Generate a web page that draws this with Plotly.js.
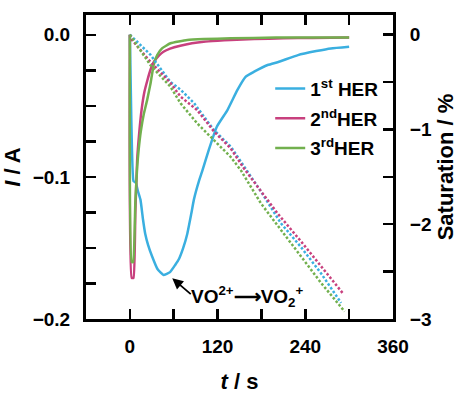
<!DOCTYPE html>
<html>
<head>
<meta charset="utf-8">
<script src="https://cdn.plot.ly/plotly-3.0.1.min.js"></script>
<style>html,body{margin:0;padding:0;background:#fff;}#chart{width:458px;height:398px;}</style>
</head>
<body>
<div id="chart"></div>
<script>
// ---- Current I (A) vs time t (s) ----
const t1 = [0, 2, 5, 8, 11, 14.5, 18, 21, 25, 30.5, 38, 46, 55, 62, 67, 73, 78.6, 84, 87.6, 94.5, 99, 108, 119, 133.5, 147, 158.6, 170, 188.5, 204, 230, 255, 275, 300];
const I1 = [0, -0.06, -0.103, -0.104, -0.11, -0.116, -0.13, -0.14, -0.148, -0.156, -0.165, -0.169, -0.167, -0.162, -0.158, -0.15, -0.14, -0.126, -0.116, -0.103, -0.096, -0.081, -0.0647, -0.053, -0.039, -0.0295, -0.026, -0.0213, -0.019, -0.0143, -0.0115, -0.0096, -0.0084];

const t2 = [0, 2.5, 5, 7.5, 10, 13, 16, 20, 24, 28, 33, 40, 46, 55, 69, 85, 101, 120, 138, 170, 210, 250, 300];
const I2 = [0, -0.171, -0.171, -0.125, -0.088, -0.068, -0.053, -0.04, -0.032, -0.025, -0.019, -0.0145, -0.012, -0.0098, -0.0077, -0.006, -0.0049, -0.0042, -0.0037, -0.003, -0.0025, -0.0022, -0.002];

const t3 = [0, 2.5, 4.5, 7.5, 10, 12, 15, 19, 23.6, 28, 32.7, 37.4, 44, 55.6, 78.6, 101, 138, 200, 300];
const I3 = [0, -0.16, -0.16, -0.118, -0.093, -0.081, -0.068, -0.056, -0.046, -0.035, -0.021, -0.0143, -0.0096, -0.006, -0.0037, -0.003, -0.0025, -0.002, -0.002];

// ---- Saturation (%) vs time t (s) ----
const ts1 = [0, 28, 55.6, 69.4, 87.6, 115, 138, 156, 179.5, 206.7, 234, 261.7, 289];
const S1  = [0, -0.21, -0.50, -0.58, -0.72, -1.006, -1.18, -1.39, -1.657, -1.99, -2.24, -2.52, -2.83];

const ts2 = [0, 3, 28, 55.6, 69.4, 92, 115, 138, 156, 202, 234, 261.7, 291.5];
const S2  = [0, -0.056, -0.285, -0.51, -0.654, -0.795, -1.02, -1.2, -1.41, -1.885, -2.18, -2.45, -2.73];

const ts3 = [0, 28, 55.6, 69.4, 92, 115, 138, 151.8, 179.3, 206.7, 234, 261.7, 293.7];
const S3  = [0, -0.32, -0.55, -0.724, -0.935, -1.11, -1.29, -1.43, -1.78, -2.06, -2.34, -2.62, -2.92];

// ---- Labels ----
const seriesNames = ['1<sup>st</sup> HER', '2<sup>nd</sup>HER', '3<sup>rd</sup>HER'];
const annText = 'VO<sup>2+</sup>\u27F6VO<sub>2</sub><sup>+</sup>';
const xTitle = '<i>t</i> / s';
const yTitle = '<i>I</i> / A';
const y2Title = 'Saturation / %';

const colors = ['#3AAFE0', '#C8407E', '#72B04E'];
const FONT = "'Liberation Sans', Arial, sans-serif";

const tsets = [[t1, I1], [t2, I2], [t3, I3]];
const ssets = [[ts1, S1], [ts2, S2], [ts3, S3]];

const traces = [];
tsets.forEach((d, i) => {
  traces.push({
    x: d[0], y: d[1], type: 'scatter', mode: 'lines',
    name: seriesNames[i], legendgroup: 'g' + i,
    line: {color: colors[i], width: 2.5, shape: 'spline', smoothing: 0.4},
    xaxis: 'x', yaxis: 'y'
  });
});
ssets.forEach((d, i) => {
  traces.push({
    x: d[0], y: d[1], type: 'scatter', mode: 'lines',
    showlegend: false,
    line: {color: colors[i], width: 2.5, dash: '2.5px,2px'},
    xaxis: 'x', yaxis: 'y2'
  });
});

const tickFont = {family: FONT, size: 19, color: '#000', weight: 'bold'};
const titleFont = {family: FONT, size: 22, color: '#000', weight: 'bold'};
const minorCommon = {ticks: 'inside', ticklen: 10, tickwidth: 2.5, tickcolor: '#000', showgrid: false};

const axisCommon = {
  showgrid: false, zeroline: false, showline: true,
  linecolor: '#000', linewidth: 3,
  ticks: 'inside', ticklen: 10, tickwidth: 2.5, tickcolor: '#000',
  tickfont: tickFont, tickmode: 'linear'
};

const layout = {
  width: 458, height: 398,
  margin: {l: 86, r: 65, t: 15, b: 79, pad: 0},
  paper_bgcolor: '#fff', plot_bgcolor: '#fff',
  font: {family: FONT, color: '#000'},
  showlegend: true,
  legend: {
    x: 0.60, y: 0.82, xanchor: 'left', yanchor: 'top',
    bgcolor: 'rgba(0,0,0,0)', borderwidth: 0,
    font: {family: FONT, size: 19, color: '#000', weight: 'bold'},
    tracegroupgap: 2
  },
  xaxis: Object.assign({}, axisCommon, {
    range: [-60, 360], mirror: 'ticks',
    tick0: 0, dtick: 120,
    minor: Object.assign({}, minorCommon, {tick0: 0, dtick: 60}),
    ticklabelstandoff: 8,
    title: {text: xTitle, font: titleFont, standoff: 18}
  }),
  yaxis: Object.assign({}, axisCommon, {
    range: [-0.2, 0.0139], mirror: false,
    tick0: 0, dtick: 0.1, tickformat: '.1f',
    minor: Object.assign({}, minorCommon, {tick0: 0, dtick: 0.025}),
    ticklabelstandoff: 9,
    title: {text: yTitle, font: titleFont, standoff: 11}
  }),
  yaxis2: Object.assign({}, axisCommon, {
    range: [-3, 0.208], overlaying: 'y', side: 'right',
    tick0: 0, dtick: 1,
    minor: Object.assign({}, minorCommon, {tick0: 0, dtick: 0.5}),
    ticklabelstandoff: 10,
    title: {text: y2Title, font: titleFont, standoff: 7}
  }),
  annotations: [
    {
      xref: 'x', yref: 'y', x: 58, y: -0.1714,
      ax: 20, ay: 17, axref: 'pixel', ayref: 'pixel',
      text: '', showarrow: true, arrowhead: 2, arrowsize: 1.2, arrowwidth: 1.8, arrowcolor: '#000', standoff: 0
    },
    {
      xref: 'x', yref: 'y', x: 160, y: -0.1845,
      text: annText, showarrow: false,
      font: {family: FONT, size: 19, color: '#000', weight: 'bold'}
    }
  ]
};

Plotly.newPlot('chart', traces, layout, {displayModeBar: false, staticPlot: true});
</script>
</body>
</html>
